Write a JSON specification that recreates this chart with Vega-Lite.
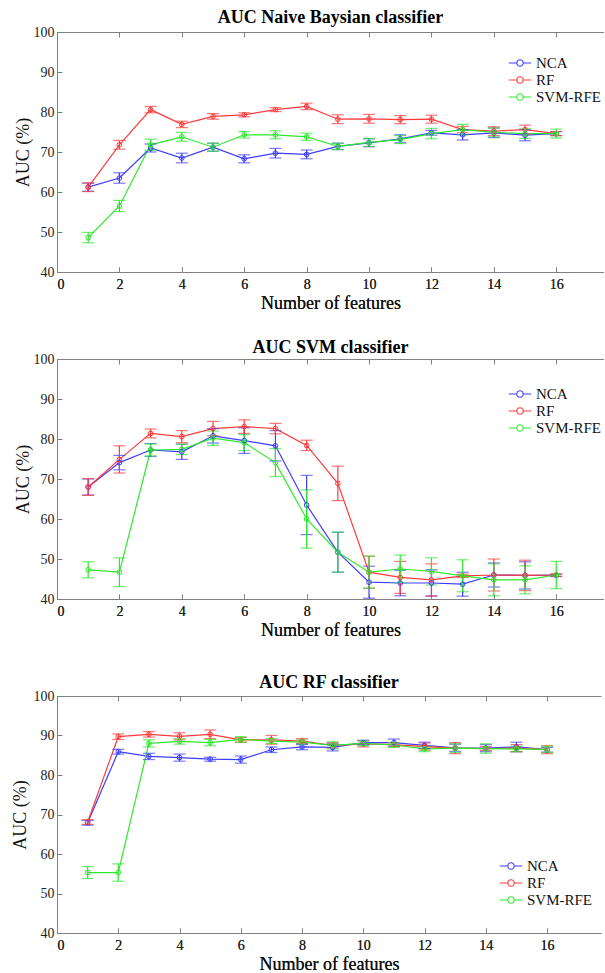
{
  "$schema": "https://vega.github.io/schema/vega-lite/v6.json",
  "padding": {"top": 9, "left": 11, "right": 0, "bottom": 0},
  "spacing": 27,
  "resolve": {"scale": {"color": "independent"}, "legend": {"color": "independent"}},
  "config": {
    "font": "Liberation Serif",
    "view": {"stroke": null},
    "axis": {
      "grid": false,
      "domainColor": "#808080",
      "tickColor": "#808080",
      "tickSize": -5,
      "labelColor": "#222222",
      "labelFont": "Liberation Serif",
      "labelFontSize": 14,
      "titleFont": "Liberation Serif",
      "titleFontSize": 18,
      "titleFontWeight": "normal",
      "titleColor": "#111111"
    },
    "axisX": {"labelPadding": 10, "titlePadding": 3},
    "axisY": {"labelPadding": 8, "titlePadding": 1},
    "title": {"font": "Liberation Serif", "fontSize": 18, "fontWeight": "bold", "color": "#000000"},
    "legend": {
      "labelFont": "Liberation Serif",
      "labelFontSize": 15,
      "labelColor": "#111111",
      "symbolType": "M-1.4,0H-0.4M0.4,0H1.4M-0.4,0A0.4,0.4 0 1,1 0.4,0A0.4,0.4 0 1,1 -0.4,0",
      "symbolSize": 256,
      "symbolStrokeWidth": 1.1,
      "symbolFillColor": "transparent",
      "labelOffset": 7,
      "rowPadding": -0.5,
      "padding": 0,
      "title": null
    }
  },
  "datasets": {
    "nb": [
      {"n":1,"m":"NCA","auc":61.2,"err":1.0},{"n":2,"m":"NCA","auc":63.5,"err":1.3},{"n":3,"m":"NCA","auc":71.0,"err":1.0},{"n":4,"m":"NCA","auc":68.5,"err":1.2},{"n":5,"m":"NCA","auc":71.2,"err":1.0},{"n":6,"m":"NCA","auc":68.3,"err":1.0},{"n":7,"m":"NCA","auc":69.7,"err":1.2},{"n":8,"m":"NCA","auc":69.4,"err":1.1},{"n":9,"m":"NCA","auc":71.4,"err":0.8},{"n":10,"m":"NCA","auc":72.3,"err":1.0},{"n":11,"m":"NCA","auc":73.3,"err":1.0},{"n":12,"m":"NCA","auc":74.8,"err":0.6},{"n":13,"m":"NCA","auc":74.3,"err":1.3},{"n":14,"m":"NCA","auc":74.8,"err":1.2},{"n":15,"m":"NCA","auc":74.2,"err":1.4},{"n":16,"m":"NCA","auc":74.6,"err":0.5},
      {"n":1,"m":"RF","auc":61.2,"err":1.1},{"n":2,"m":"RF","auc":71.8,"err":1.1},{"n":3,"m":"RF","auc":80.6,"err":0.8},{"n":4,"m":"RF","auc":76.9,"err":0.8},{"n":5,"m":"RF","auc":78.9,"err":0.7},{"n":6,"m":"RF","auc":79.3,"err":0.5},{"n":7,"m":"RF","auc":80.6,"err":0.5},{"n":8,"m":"RF","auc":81.4,"err":0.8},{"n":9,"m":"RF","auc":78.2,"err":1.1},{"n":10,"m":"RF","auc":78.3,"err":1.1},{"n":11,"m":"RF","auc":78.1,"err":1.0},{"n":12,"m":"RF","auc":78.2,"err":1.0},{"n":13,"m":"RF","auc":75.6,"err":0.8},{"n":14,"m":"RF","auc":75.2,"err":1.1},{"n":15,"m":"RF","auc":75.6,"err":1.1},{"n":16,"m":"RF","auc":74.6,"err":0.5},
      {"n":1,"m":"SVM-RFE","auc":48.6,"err":1.3},{"n":2,"m":"SVM-RFE","auc":56.5,"err":1.4},{"n":3,"m":"SVM-RFE","auc":71.8,"err":1.4},{"n":4,"m":"SVM-RFE","auc":73.8,"err":1.1},{"n":5,"m":"SVM-RFE","auc":71.2,"err":1.0},{"n":6,"m":"SVM-RFE","auc":74.3,"err":0.8},{"n":7,"m":"SVM-RFE","auc":74.3,"err":1.0},{"n":8,"m":"SVM-RFE","auc":73.8,"err":0.9},{"n":9,"m":"SVM-RFE","auc":71.4,"err":0.8},{"n":10,"m":"SVM-RFE","auc":72.4,"err":1.0},{"n":11,"m":"SVM-RFE","auc":73.1,"err":1.0},{"n":12,"m":"SVM-RFE","auc":74.6,"err":1.3},{"n":13,"m":"SVM-RFE","auc":75.6,"err":1.3},{"n":14,"m":"SVM-RFE","auc":74.9,"err":1.1},{"n":15,"m":"SVM-RFE","auc":74.6,"err":1.2},{"n":16,"m":"SVM-RFE","auc":74.6,"err":1.1}
    ],
    "svm": [
      {"n":1,"m":"NCA","auc":68.0,"err":2.0},{"n":2,"m":"NCA","auc":74.1,"err":1.8},{"n":3,"m":"NCA","auc":77.25,"err":1.6},{"n":4,"m":"NCA","auc":76.8,"err":1.9},{"n":5,"m":"NCA","auc":80.8,"err":1.8},{"n":6,"m":"NCA","auc":79.6,"err":3.2},{"n":7,"m":"NCA","auc":78.3,"err":3.8},{"n":8,"m":"NCA","auc":63.5,"err":7.4},{"n":9,"m":"NCA","auc":51.7,"err":5.0},{"n":10,"m":"NCA","auc":44.2,"err":4.0},{"n":11,"m":"NCA","auc":44.0,"err":3.2},{"n":12,"m":"NCA","auc":44.0,"err":3.3},{"n":13,"m":"NCA","auc":43.7,"err":3.0},{"n":14,"m":"NCA","auc":46.0,"err":3.0},{"n":15,"m":"NCA","auc":45.9,"err":3.4},{"n":16,"m":"NCA","auc":45.9,"err":0.3},
      {"n":1,"m":"RF","auc":68.0,"err":2.1},{"n":2,"m":"RF","auc":74.9,"err":3.4},{"n":3,"m":"RF","auc":81.4,"err":1.1},{"n":4,"m":"RF","auc":80.6,"err":1.5},{"n":5,"m":"RF","auc":82.6,"err":1.8},{"n":6,"m":"RF","auc":83.1,"err":1.7},{"n":7,"m":"RF","auc":82.6,"err":1.3},{"n":8,"m":"RF","auc":78.4,"err":1.3},{"n":9,"m":"RF","auc":68.9,"err":4.3},{"n":10,"m":"RF","auc":46.7,"err":4.0},{"n":11,"m":"RF","auc":45.4,"err":4.0},{"n":12,"m":"RF","auc":44.8,"err":4.0},{"n":13,"m":"RF","auc":45.8,"err":0.4},{"n":14,"m":"RF","auc":46.0,"err":4.0},{"n":15,"m":"RF","auc":45.9,"err":3.8},{"n":16,"m":"RF","auc":46.0,"err":0.3},
      {"n":1,"m":"SVM-RFE","auc":47.3,"err":2.0},{"n":2,"m":"SVM-RFE","auc":46.7,"err":3.6},{"n":3,"m":"SVM-RFE","auc":77.25,"err":1.5},{"n":4,"m":"SVM-RFE","auc":77.4,"err":1.3},{"n":5,"m":"SVM-RFE","auc":80.2,"err":1.8},{"n":6,"m":"SVM-RFE","auc":79.1,"err":2.0},{"n":7,"m":"SVM-RFE","auc":74.1,"err":3.5},{"n":8,"m":"SVM-RFE","auc":60.0,"err":7.3},{"n":9,"m":"SVM-RFE","auc":51.7,"err":5.0},{"n":10,"m":"SVM-RFE","auc":46.7,"err":4.0},{"n":11,"m":"SVM-RFE","auc":47.5,"err":3.5},{"n":12,"m":"SVM-RFE","auc":46.9,"err":3.4},{"n":13,"m":"SVM-RFE","auc":45.8,"err":4.0},{"n":14,"m":"SVM-RFE","auc":44.8,"err":4.0},{"n":15,"m":"SVM-RFE","auc":44.8,"err":3.5},{"n":16,"m":"SVM-RFE","auc":46.0,"err":3.4}
    ],
    "rf": [
      {"n":1,"m":"NCA","auc":67.9,"err":0.6},{"n":2,"m":"NCA","auc":85.9,"err":0.6},{"n":3,"m":"NCA","auc":84.7,"err":0.8},{"n":4,"m":"NCA","auc":84.4,"err":0.9},{"n":5,"m":"NCA","auc":84.0,"err":0.5},{"n":6,"m":"NCA","auc":83.9,"err":0.9},{"n":7,"m":"NCA","auc":86.4,"err":0.7},{"n":8,"m":"NCA","auc":87.1,"err":0.7},{"n":9,"m":"NCA","auc":87.0,"err":0.9},{"n":10,"m":"NCA","auc":88.2,"err":0.6},{"n":11,"m":"NCA","auc":88.2,"err":0.9},{"n":12,"m":"NCA","auc":87.5,"err":0.8},{"n":13,"m":"NCA","auc":86.9,"err":0.9},{"n":14,"m":"NCA","auc":86.8,"err":0.9},{"n":15,"m":"NCA","auc":87.1,"err":1.2},{"n":16,"m":"NCA","auc":86.4,"err":0.6},
      {"n":1,"m":"RF","auc":68.1,"err":0.6},{"n":2,"m":"RF","auc":89.7,"err":0.7},{"n":3,"m":"RF","auc":90.3,"err":0.7},{"n":4,"m":"RF","auc":89.8,"err":0.9},{"n":5,"m":"RF","auc":90.3,"err":1.1},{"n":6,"m":"RF","auc":88.9,"err":0.6},{"n":7,"m":"RF","auc":88.9,"err":1.1},{"n":8,"m":"RF","auc":88.6,"err":0.6},{"n":9,"m":"RF","auc":87.5,"err":0.7},{"n":10,"m":"RF","auc":87.9,"err":0.8},{"n":11,"m":"RF","auc":87.7,"err":0.5},{"n":12,"m":"RF","auc":87.2,"err":0.9},{"n":13,"m":"RF","auc":86.8,"err":1.4},{"n":14,"m":"RF","auc":86.7,"err":0.5},{"n":15,"m":"RF","auc":86.8,"err":0.9},{"n":16,"m":"RF","auc":86.4,"err":1.0},
      {"n":1,"m":"SVM-RFE","auc":55.3,"err":1.5},{"n":2,"m":"SVM-RFE","auc":55.3,"err":2.2},{"n":3,"m":"SVM-RFE","auc":88.0,"err":0.9},{"n":4,"m":"SVM-RFE","auc":88.5,"err":0.7},{"n":5,"m":"SVM-RFE","auc":88.2,"err":0.8},{"n":6,"m":"SVM-RFE","auc":89.0,"err":0.7},{"n":7,"m":"SVM-RFE","auc":88.6,"err":0.6},{"n":8,"m":"SVM-RFE","auc":88.3,"err":0.6},{"n":9,"m":"SVM-RFE","auc":87.5,"err":0.9},{"n":10,"m":"SVM-RFE","auc":88.0,"err":0.6},{"n":11,"m":"SVM-RFE","auc":87.6,"err":0.6},{"n":12,"m":"SVM-RFE","auc":86.6,"err":0.7},{"n":13,"m":"SVM-RFE","auc":86.8,"err":1.1},{"n":14,"m":"SVM-RFE","auc":86.7,"err":1.2},{"n":15,"m":"SVM-RFE","auc":86.6,"err":0.7},{"n":16,"m":"SVM-RFE","auc":86.5,"err":0.8}
    ]
  },
  "vconcat": [
    {
      "title": {"text": "AUC Naive Baysian classifier", "offset": -2},
      "width": 547, "height": 240,
      "data": {"name": "nb"},
      "encoding": {
        "x": {"field": "n", "type": "quantitative", "scale": {"domain": [0, 17.53], "nice": false}, "axis": {"orient": "bottom", "values": [0,2,4,6,8,10,12,14,16], "title": "Number of features"}},
        "y": {"field": "auc", "type": "quantitative", "scale": {"domain": [40, 100], "nice": false}, "axis": {"values": [40,50,60,70,80,90,100], "title": "AUC (%)"}},
        "color": {"field": "m", "type": "nominal", "scale": {"domain": ["NCA","RF","SVM-RFE"], "range": ["#3d3dff","#ff3b3b","#2ee82e"]}, "legend": {"orient": "none", "legendX": 454, "legendY": 22, "symbolFillColor": "transparent", "encode": {"symbols": {"update": {"fill": {"value": "transparent"}, "fillOpacity": {"value": 0}}}}}}
      },
      "layer": [
        {"mark": {"type": "line", "strokeWidth": 1.2}},
        {"mark": {"type": "errorbar", "ticks": {"size": 12}, "thickness": 1.2}, "encoding": {"yError": {"field": "err"}}},
        {"mark": {"type": "point", "filled": false, "size": 22, "strokeWidth": 1, "opacity": 1},
         "encoding": {"x": {"field": "n", "type": "quantitative", "axis": {"orient": "top", "labels": false, "title": null, "labelPadding": 0, "values": [0,2,4,6,8,10,12,14,16]}}}}
      ]
    },
    {
      "title": {"text": "AUC SVM classifier", "offset": -5},
      "width": 547, "height": 240,
      "data": {"name": "svm"},
      "encoding": {
        "x": {"field": "n", "type": "quantitative", "scale": {"domain": [0, 17.53], "nice": false}, "axis": {"orient": "bottom", "values": [0,2,4,6,8,10,12,14,16], "title": "Number of features"}},
        "y": {"field": "auc", "type": "quantitative", "scale": {"domain": [40, 100], "nice": false}, "axis": {"values": [40,50,60,70,80,90,100], "title": "AUC (%)"}},
        "color": {"field": "m", "type": "nominal", "scale": {"domain": ["NCA","RF","SVM-RFE"], "range": ["#3d3dff","#ff3b3b","#2ee82e"]}, "legend": {"orient": "none", "legendX": 454, "legendY": 26, "symbolFillColor": "transparent", "encode": {"symbols": {"update": {"fill": {"value": "transparent"}, "fillOpacity": {"value": 0}}}}}}
      },
      "layer": [
        {"mark": {"type": "line", "strokeWidth": 1.2}},
        {"mark": {"type": "errorbar", "ticks": {"size": 12}, "thickness": 1.2}, "encoding": {"yError": {"field": "err"}}},
        {"mark": {"type": "point", "filled": false, "size": 22, "strokeWidth": 1, "opacity": 1},
         "encoding": {"x": {"field": "n", "type": "quantitative", "axis": {"orient": "top", "labels": false, "title": null, "labelPadding": 0, "values": [0,2,4,6,8,10,12,14,16]}}}}
      ]
    },
    {
      "title": {"text": ["", "AUC RF classifier"], "offset": -3, "lineHeight": 8},
      "width": 544, "height": 237,
      "data": {"name": "rf"},
      "encoding": {
        "x": {"field": "n", "type": "quantitative", "scale": {"domain": [0, 17.76], "nice": false}, "axis": {"orient": "bottom", "values": [0,2,4,6,8,10,12,14,16], "title": "Number of features"}},
        "y": {"field": "auc", "type": "quantitative", "scale": {"domain": [40, 100], "nice": false}, "axis": {"values": [40,50,60,70,80,90,100], "title": "AUC (%)", "titlePadding": 4}},
        "color": {"field": "m", "type": "nominal", "scale": {"domain": ["NCA","RF","SVM-RFE"], "range": ["#3d3dff","#ff3b3b","#2ee82e"]}, "legend": {"orient": "none", "legendX": 445, "legendY": 161, "symbolFillColor": "transparent", "encode": {"symbols": {"update": {"fill": {"value": "transparent"}, "fillOpacity": {"value": 0}}}}}}
      },
      "layer": [
        {"mark": {"type": "line", "strokeWidth": 1.2}},
        {"mark": {"type": "errorbar", "ticks": {"size": 12}, "thickness": 1.2}, "encoding": {"yError": {"field": "err"}}},
        {"mark": {"type": "point", "filled": false, "size": 22, "strokeWidth": 1, "opacity": 1},
         "encoding": {"x": {"field": "n", "type": "quantitative", "axis": {"orient": "top", "labels": false, "title": null, "labelPadding": 0, "values": [0,2,4,6,8,10,12,14,16]}}}}
      ]
    }
  ]
}
